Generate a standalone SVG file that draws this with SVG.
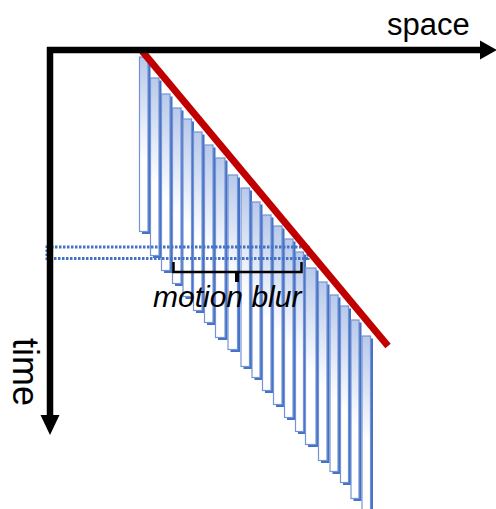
<svg xmlns="http://www.w3.org/2000/svg" width="496" height="509" viewBox="0 0 496 509">
<defs>
<linearGradient id="barg" x1="0" y1="0" x2="0" y2="1">
<stop offset="0" stop-color="#b8c9ea"/>
<stop offset="0.6" stop-color="#ffffff"/>
<stop offset="1" stop-color="#ffffff"/>
</linearGradient>
<style>
.sh{fill:#4472C4}
.bar{fill:url(#barg);stroke:#7393d6;stroke-width:1.2}
.axis{stroke:#000;stroke-width:6.5;fill:none}
.lbl{font-family:"Liberation Sans",Arial,sans-serif;fill:#000}
.brace{stroke:#000;stroke-width:2.5;fill:none}
</style>
</defs>
<rect width="496" height="509" fill="#fff"/>
<g id="bars">
<rect class="sh" x="142" y="59.5" width="8.5" height="174.5"/><rect class="bar" x="139.5" y="57" width="8.5" height="174.5"/>
<rect class="sh" x="153" y="80.5" width="8.5" height="177.5"/><rect class="bar" x="150.5" y="78" width="8.5" height="177.5"/>
<rect class="sh" x="164" y="96.5" width="8.5" height="176.5"/><rect class="bar" x="161.5" y="94" width="8.5" height="176.5"/>
<rect class="sh" x="175" y="110.5" width="8.5" height="175.5"/><rect class="bar" x="172.5" y="108" width="8.5" height="175.5"/>
<rect class="sh" x="185.5" y="121.5" width="8.5" height="177.5"/><rect class="bar" x="183" y="119" width="8.5" height="177.5"/>
<rect class="sh" x="196" y="134.5" width="8.5" height="178.5"/><rect class="bar" x="193.5" y="132" width="8.5" height="178.5"/>
<rect class="sh" x="207" y="147.5" width="8.5" height="177.5"/><rect class="bar" x="204.5" y="145" width="8.5" height="177.5"/>
<rect class="sh" x="218" y="160.5" width="9.5" height="179.5"/><rect class="bar" x="215.5" y="158" width="9.5" height="179.5"/>
<rect class="sh" x="230.5" y="177.5" width="9.5" height="174.5"/><rect class="bar" x="228" y="175" width="9.5" height="174.5"/>
<rect class="sh" x="243.5" y="190.5" width="8.5" height="178.5"/><rect class="bar" x="241" y="188" width="8.5" height="178.5"/>
<rect class="sh" x="254.5" y="204.5" width="8" height="175.5"/><rect class="bar" x="252" y="202" width="8" height="175.5"/>
<rect class="sh" x="265" y="217.5" width="8.5" height="175.5"/><rect class="bar" x="262.5" y="215" width="8.5" height="175.5"/>
<rect class="sh" x="276" y="228.5" width="8.5" height="178.5"/><rect class="bar" x="273.5" y="226" width="8.5" height="178.5"/>
<rect class="sh" x="287" y="241.5" width="8.5" height="178.5"/><rect class="bar" x="284.5" y="239" width="8.5" height="178.5"/>
<rect class="sh" x="298" y="254.5" width="8" height="179.5"/><rect class="bar" x="295.5" y="252" width="8" height="179.5"/>
<rect class="sh" x="308" y="270.5" width="10.5" height="176.5"/><rect class="bar" x="305.5" y="268" width="10.5" height="176.5"/>
<rect class="sh" x="321" y="284.5" width="8.5" height="178.5"/><rect class="bar" x="318.5" y="282" width="8.5" height="178.5"/>
<rect class="sh" x="332.5" y="297.5" width="8" height="176.5"/><rect class="bar" x="330" y="295" width="8" height="176.5"/>
<rect class="sh" x="343" y="308.5" width="8" height="176.5"/><rect class="bar" x="340.5" y="306" width="8" height="176.5"/>
<rect class="sh" x="353.5" y="322.5" width="8" height="178.5"/><rect class="bar" x="351" y="320" width="8" height="178.5"/>
<rect class="sh" x="364.5" y="338.5" width="8.5" height="178.5"/><rect class="bar" x="362" y="336" width="8.5" height="178.5"/>
</g>
<g id="connectors">
<rect id="window" x="47" y="247" width="261" height="11.5" fill="none" stroke="#4472C4" stroke-width="3" stroke-dasharray="2.5 1.5"/>
<path class="brace" d="M173.5,262 V272 H301.5 V262"/>
<path d="M237,272 V282" stroke="#000" stroke-width="4"/>
<line x1="142" y1="51" x2="388" y2="346" stroke="#C00000" stroke-width="7"/>
<line class="axis" x1="47" y1="50" x2="482" y2="50"/>
<polygon points="480,40.5 497,50 480,59.5" fill="#000"/>
<line class="axis" x1="50" y1="47" x2="50" y2="417"/>
<polygon points="40.5,415 50,435 59.5,415" fill="#000"/>
</g>
<g id="labels">
<text class="lbl" x="387" y="35" font-size="31">space</text>
<text class="lbl" font-size="36" transform="translate(13,338) rotate(90)">time</text>
<text class="lbl" x="153" y="307" font-size="30" font-style="italic">motion blur</text>
</g>
</svg>
